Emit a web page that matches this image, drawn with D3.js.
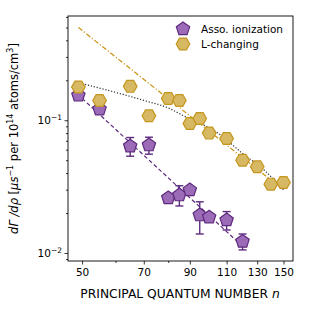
<!DOCTYPE html>
<html>
<head>
<meta charset="utf-8">
<script src="https://d3js.org/d3.v7.min.js"></script>
<style>
body { margin: 0; background: #fff; }
text { font-family: "DejaVu Sans", sans-serif; fill: #000; }
</style>
</head>
<body>
<div id="chart"></div>
<script>
// measured points
const assoN = [49, 55, 65, 72, 80, 85, 90, 95, 100, 110, 120]
const assoRate = [0.154, 0.121, 0.0638, 0.065, 0.026, 0.0273, 0.0298, 0.0193, 0.0186, 0.0177, 0.0122]
const assoLo = [0.154, 0.121, 0.0536, 0.0555, 0.026, 0.0226, 0.0298, 0.0139, 0.0186, 0.0149, 0.01055]
const assoHi = [0.154, 0.121, 0.0741, 0.0745, 0.026, 0.0321, 0.0298, 0.0243, 0.0186, 0.0205, 0.0139]

const lchN = [49, 55, 65, 72, 80, 85, 90, 95, 100, 110, 120, 130, 140, 150]
const lchRate = [0.178, 0.141, 0.18, 0.108, 0.146, 0.141, 0.0945, 0.103, 0.080, 0.0728, 0.050, 0.0446, 0.033, 0.034]

// fit lines
const assoFitN = [50, 119]
const assoFitRate = [0.146, 0.0115]
const lchFitN = [49, 148]
const lchFitRate = [0.50, 0.0308]
const modelN = [50, 70, 80.6, 86.5, 106.6, 118.7, 136.5, 150]
const modelRate = [0.189, 0.141, 0.1225, 0.109, 0.0772, 0.0578, 0.0408, 0.0298]

const xMajor = [50, 70, 90, 110, 130, 150]
const xMinor = [60, 80]
const yMajor = [0.1, 0.01]
const yMajorLabel = ['\u22121', '\u22122']

const svgWidth = 310, svgHeight = 312
const margin = {top: 16, left: 68, right: 17, bottom: 51}
const width = svgWidth - margin.left - margin.right
const height = svgHeight - margin.top - margin.bottom

const svg = d3.select('#chart').append('svg')
    .attr('width', svgWidth)
    .attr('height', svgHeight)
const g = svg.append('g').attr('transform', `translate(${margin.left},${margin.top})`)

const x = d3.scaleLog().domain([46.3, 158]).range([0, width])
const y = d3.scaleLog().domain([0.0087, 0.61]).range([height, 0])

const purple = '#9b6bb8', purpleEdge = '#5e2a7e'
const gold = '#d7b863', goldEdge = '#c4961e'

// axes
const xAxis = d3.axisBottom(x).tickValues(xMajor).tickFormat(d3.format('d')).tickSize(3.5).tickPadding(4)
const xAxisMinor = d3.axisBottom(x).tickValues(xMinor).tickFormat('').tickSize(2)
const yMinorVals = []
;[0.001, 0.01, 0.1].forEach(dec => { for (let k = 2; k <= 9; k++) { const v = dec * k; if (v > 0.0087 && v < 0.61) yMinorVals.push(v) } })
const yAxisMinor = d3.axisLeft(y).tickValues(yMinorVals).tickFormat('').tickSize(2)
const yAxis = d3.axisLeft(y).tickValues(yMajor).tickFormat('').tickSize(3.5)

function styleAxis(sel) {
    sel.select('.domain').remove()
    sel.selectAll('line').attr('stroke', '#000').attr('stroke-width', 0.8)
    sel.selectAll('text').attr('font-size', 10.5).attr('fill', '#000')
}
g.append('g').attr('transform', `translate(0,${height})`).call(xAxis).call(styleAxis)
g.append('g').attr('transform', `translate(0,${height})`).call(xAxisMinor).call(styleAxis)
g.append('g').call(yAxisMinor).call(styleAxis)
g.append('g').call(yAxis).call(styleAxis)

yMajor.forEach((v, i) => {
    const t = g.append('text')
        .attr('x', -6).attr('y', y(v) + 4)
        .attr('text-anchor', 'end').attr('font-size', 10.5)
    t.append('tspan').text('10')
    t.append('tspan').attr('dy', -4).attr('font-size', 7.5).text(yMajorLabel[i])
})

// frame
g.append('rect').attr('width', width).attr('height', height)
    .attr('fill', 'none').attr('stroke', '#000').attr('stroke-width', 0.9)

// lines
const line = d3.line().x(d => x(d[0])).y(d => y(d[1]))
g.append('path').datum(d3.zip(lchFitN, lchFitRate)).attr('d', line)
    .attr('fill', 'none').attr('stroke', '#c8930f').attr('stroke-width', 1.2)
    .attr('stroke-dasharray', '5,2,1.2,2')
g.append('path').datum(d3.zip(modelN, modelRate)).attr('d', line.curve(d3.curveMonotoneX))
    .attr('fill', 'none').attr('stroke', '#333').attr('stroke-width', 1.2)
    .attr('stroke-dasharray', '1.2,1.8')
line.curve(d3.curveLinear)
g.append('path').datum(d3.zip(assoFitN, assoFitRate)).attr('d', line)
    .attr('fill', 'none').attr('stroke', purpleEdge).attr('stroke-width', 1.2)
    .attr('stroke-dasharray', '4,2.5')

// markers
function pentagon(r) {
    return d3.range(5).map(i => { const a = -Math.PI / 2 + i * 2 * Math.PI / 5; return [r * Math.cos(a), r * Math.sin(a)] })
}
function hexagon(r) {
    return d3.range(6).map(i => { const a = i * Math.PI / 3; return [r * Math.cos(a), r * Math.sin(a)] })
}
const pent = 'M' + pentagon(7).join('L') + 'Z'
const hex = 'M' + hexagon(6.8).join('L') + 'Z'

const assoData = assoN.map((n, i) => ({n: n, v: assoRate[i], lo: assoLo[i], hi: assoHi[i]}))
const err = g.append('g').selectAll('g').data(assoData.filter(d => d.hi > d.lo)).enter().append('g')
    .attr('stroke', purpleEdge).attr('stroke-width', 1.4)
err.append('line').attr('x1', d => x(d.n)).attr('x2', d => x(d.n)).attr('y1', d => y(d.lo)).attr('y2', d => y(d.hi))
err.append('line').attr('x1', d => x(d.n) - 4).attr('x2', d => x(d.n) + 4).attr('y1', d => y(d.lo)).attr('y2', d => y(d.lo))
err.append('line').attr('x1', d => x(d.n) - 4).attr('x2', d => x(d.n) + 4).attr('y1', d => y(d.hi)).attr('y2', d => y(d.hi))

g.append('g').selectAll('path').data(assoData).enter().append('path')
    .attr('d', pent).attr('transform', d => `translate(${x(d.n)},${y(d.v)})`)
    .attr('fill', purple).attr('stroke', purpleEdge).attr('stroke-width', 1.2)

g.append('g').selectAll('path').data(d3.zip(lchN, lchRate)).enter().append('path')
    .attr('d', hex).attr('transform', d => `translate(${x(d[0])},${y(d[1])})`)
    .attr('fill', gold).attr('stroke', goldEdge).attr('stroke-width', 1.2)

// legend
const legend = g.append('g').attr('transform', 'translate(115,13)')
legend.append('path').attr('d', pent).attr('fill', purple).attr('stroke', purpleEdge).attr('stroke-width', 1.2)
legend.append('text').attr('x', 18).attr('y', 4).attr('font-size', 10.5).text('Asso. ionization')
legend.append('path').attr('d', hex).attr('transform', 'translate(0,15)').attr('fill', gold).attr('stroke', goldEdge).attr('stroke-width', 1.2)
legend.append('text').attr('x', 18).attr('y', 19).attr('font-size', 10.5).text('L-changing')

// axis labels
const xl = svg.append('text').attr('x', 180).attr('y', 298).attr('text-anchor', 'middle').attr('font-size', 12.3)
xl.append('tspan').text('PRINCIPAL QUANTUM NUMBER ')
xl.append('tspan').attr('font-style', 'italic').text('n')

const yl = svg.append('text').attr('transform', `translate(17.5,${margin.top + height / 2}) rotate(-90)`)
    .attr('text-anchor', 'middle').attr('font-size', 11.5)
yl.append('tspan').attr('font-style', 'italic').text('d\u0393 /d\u03c1')
yl.append('tspan').text('  [')
yl.append('tspan').attr('font-style', 'italic').text('\u03bcs')
yl.append('tspan').attr('dy', -4.5).attr('font-size', 8).text('\u22121')
yl.append('tspan').attr('dy', 4.5).text(' per 10')
yl.append('tspan').attr('dy', -4.5).attr('font-size', 8).text('14')
yl.append('tspan').attr('dy', 4.5).text(' atoms/cm')
yl.append('tspan').attr('dy', -4.5).attr('font-size', 8).text('3')
yl.append('tspan').attr('dy', 4.5).text(']')
</script>
</body>
</html>
